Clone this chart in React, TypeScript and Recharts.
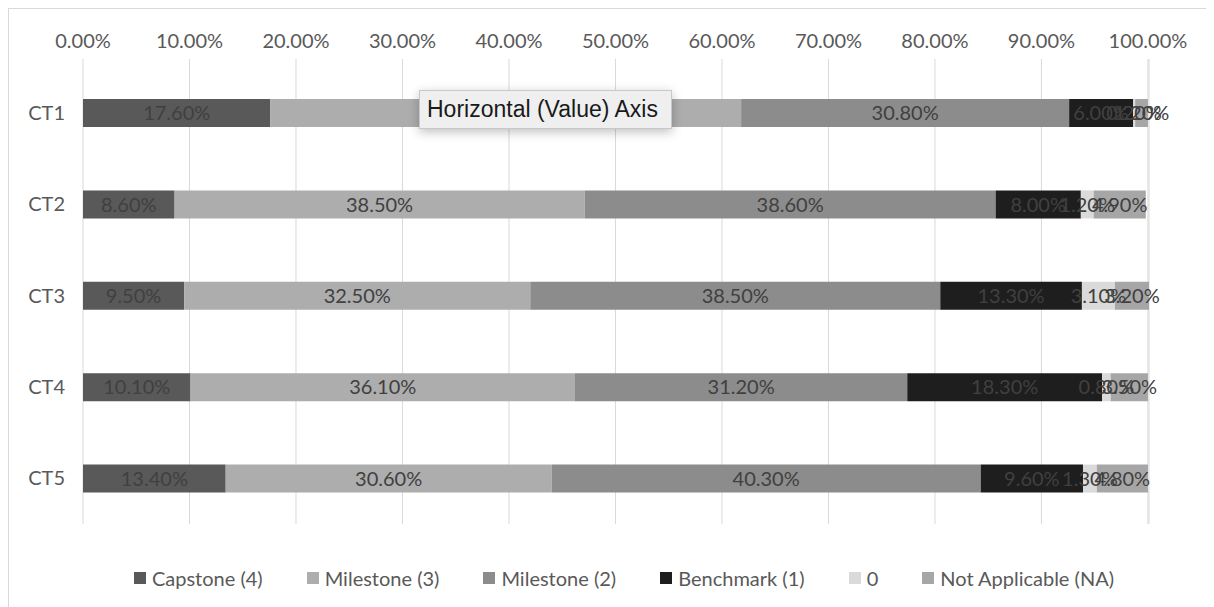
import { Bar, BarChart, CartesianGrid, LabelList, Legend, XAxis, YAxis } from "recharts";

const categories = ["CT1", "CT2", "CT3", "CT4", "CT5"];

// share of scores per level, in percent
const capstone = [17.6, 8.6, 9.5, 10.1, 13.4];
const milestone3 = [44.2, 38.5, 32.5, 36.1, 30.6];
const milestone2 = [30.8, 38.6, 38.5, 31.2, 40.3];
const benchmark = [6.0, 8.0, 13.3, 18.3, 9.6];
const zero = [0.2, 1.2, 3.1, 0.8, 1.3];
const notApplicable = [1.2, 4.9, 3.2, 3.5, 4.8];

const xTicks = [0, 10, 20, 30, 40, 50, 60, 70, 80, 90, 100];

const SERIES = [
  { key: "capstone", name: "Capstone (4)", color: "#595959", values: capstone },
  { key: "milestone3", name: "Milestone (3)", color: "#adadad", values: milestone3 },
  { key: "milestone2", name: "Milestone (2)", color: "#8c8c8c", values: milestone2 },
  { key: "benchmark", name: "Benchmark (1)", color: "#1e1e1e", values: benchmark },
  { key: "zero", name: "0", color: "#dadada", values: zero },
  { key: "na", name: "Not Applicable (NA)", color: "#a6a6a6", values: notApplicable },
];

const data = categories.map((c, i) => {
  const row: Record<string, string | number> = { name: c };
  SERIES.forEach((s) => {
    row[s.key] = s.values[i];
  });
  return row;
});

const FONT = "Lato, 'Open Sans', sans-serif";
const pct = (v: number) => `${Number(v).toFixed(2)}%`;

function LegendRow() {
  return (
    <div
      style={{
        height: 30,
        display: "flex",
        justifyContent: "center",
        alignItems: "center",
        gap: 44,
        fontFamily: FONT,
        fontSize: 20,
        color: "#595959",
      }}
    >
      {SERIES.map((s) => (
        <span key={s.key} style={{ display: "flex", alignItems: "center" }}>
          <span style={{ width: 12, height: 12, background: s.color, marginRight: 6 }} />
          {s.name}
        </span>
      ))}
    </div>
  );
}

export default function App() {
  return (
    <div
      style={{
        position: "relative",
        width: 1220,
        height: 610,
        borderLeft: "1px solid #d9d9d9",
        borderTop: "1px solid #d9d9d9",
        boxSizing: "border-box",
        background: "#fff",
      }}
    >
      <BarChart
        width={1206}
        height={599}
        data={data}
        layout="vertical"
        margin={{ top: 20, right: 66, bottom: 54, left: 14 }}
        barSize={28}
      >
        <CartesianGrid horizontal={false} stroke="#d9d9d9" />
        <XAxis
          type="number"
          orientation="top"
          domain={[0, 100]}
          ticks={xTicks}
          tickFormatter={pct}
          axisLine={false}
          tickLine={false}
          tickMargin={5}
          height={30}
          tick={{ fill: "#595959", fontSize: 20, fontFamily: FONT }}
        />
        <YAxis
          type="category"
          dataKey="name"
          width={60}
          axisLine={false}
          tickLine={false}
          tickMargin={12}
          padding={{ top: 8, bottom: 0 }}
          tick={{ fill: "#595959", fontSize: 20, fontFamily: FONT }}
        />
        <Legend
          verticalAlign="bottom"
          wrapperStyle={{ bottom: 15, left: 12, width: 1206 }}
          content={() => <LegendRow />}
        />
        {SERIES.map((s) => (
          <Bar key={s.key} dataKey={s.key} name={s.name} stackId="a" fill={s.color} isAnimationActive={false}>
            <LabelList
              dataKey={s.key}
              position="center"
              formatter={(v: number) => pct(v)}
              fill="#404040"
              fontSize={20}
              fontFamily={FONT}
            />
          </Bar>
        ))}
      </BarChart>
      <div
        style={{
          position: "absolute",
          left: 410,
          top: 81,
          width: 253,
          height: 39,
          boxSizing: "border-box",
          background: "#efefef",
          border: "1px solid #c8c8c8",
          boxShadow: "0 3px 10px rgba(0,0,0,0.25)",
          fontFamily: "'Liberation Sans', Arial, sans-serif",
          fontSize: 23,
          color: "#1a1a1a",
          display: "flex",
          alignItems: "center",
          paddingLeft: 7,
          whiteSpace: "nowrap",
        }}
      >
        Horizontal (Value) Axis
      </div>
    </div>
  );
}
